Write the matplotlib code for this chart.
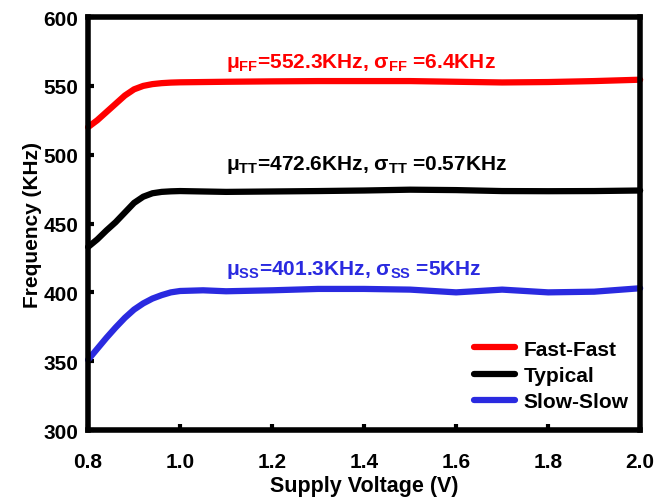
import matplotlib.pyplot as plt

plt.rcParams['font.family'] = ['Liberation Sans', 'DejaVu Sans']
plt.rcParams['font.weight'] = 'bold'
plt.rcParams['mathtext.default'] = 'regular'

# Supply voltage sweep (V)
voltage = [0.80, 0.82, 0.84, 0.86, 0.88, 0.90, 0.92, 0.94, 0.96, 0.98,
           1.00, 1.05, 1.10, 1.20, 1.30, 1.40, 1.50, 1.60, 1.70, 1.80,
           1.90, 2.00]

# Frequency per corner (KHz)
freq_ff = [520, 525, 531, 537, 543, 547.5, 550, 551.3, 552, 552.4,
           552.6, 552.8, 553, 553.3, 553.5, 553.5, 553.5, 553, 552.5, 552.8,
           553.5, 554.5]
freq_tt = [433, 438.5, 445, 451, 458, 465, 469.5, 472, 473, 473.4,
           473.6, 473.3, 473, 473.3, 473.6, 474, 474.6, 474.3, 473.6, 473.5,
           473.6, 474]
freq_ss = [351, 359, 367, 374.5, 381.5, 387.5, 392, 395.5, 398, 400,
           401, 401.5, 400.8, 401.5, 402.5, 402.5, 402, 400, 402, 400,
           400.5, 403]

labels = ['Fast-Fast', 'Typical', 'Slow-Slow']
notes = ['μ$_{FF}$=552.3KHz, σ$_{FF}$ =6.4KHz',
         'μ$_{TT}$=472.6KHz, σ$_{TT}$ =0.57KHz',
         'μ$_{SS}$=401.3KHz, σ$_{SS}$ =5KHz']
note_y = [567, 493, 417]
colors = ['#ff0000', '#000000', '#2a2ae0']

fig = plt.figure(figsize=(6.62, 5.02), dpi=100)
ax = fig.add_axes([0.133, 0.1414, 0.834, 0.8226])

for ys, lab, c in zip([freq_ff, freq_tt, freq_ss], labels, colors):
    ax.plot(voltage, ys, color=c, linewidth=4.5, label=lab,
            solid_capstyle='round', solid_joinstyle='round', clip_on=False)

for txt, y, c in zip(notes, note_y, colors):
    ax.text(1.10, y, txt, color=c, fontsize=15, fontweight='bold',
            ha='left', va='center')

ax.set_xlim(0.8, 2.0)
ax.set_ylim(300, 600)
ax.set_xticks([0.8, 1.0, 1.2, 1.4, 1.6, 1.8, 2.0])
ax.set_xticklabels(['0.8', '1.0', '1.2', '1.4', '1.6', '1.8', '2.0'])
ax.set_yticks([300, 350, 400, 450, 500, 550, 600])

for sp in ax.spines.values():
    sp.set_linewidth(4)
ax.tick_params(direction='in', length=4, width=3, labelsize=15, pad=7)
ax.tick_params(axis='x', pad=16)

ax.set_xlabel('Supply Voltage (V)', fontsize=15.5, fontweight='bold', labelpad=3)
ax.set_ylabel('Frequency (KHz)', fontsize=15, fontweight='bold', labelpad=1)

ax.legend(loc='lower right', bbox_to_anchor=(1.013, 0.0), frameon=False,
          fontsize=15, handlelength=2.0, handletextpad=0.4,
          labelspacing=0.35)

fig.savefig('out.png', dpi=100)
